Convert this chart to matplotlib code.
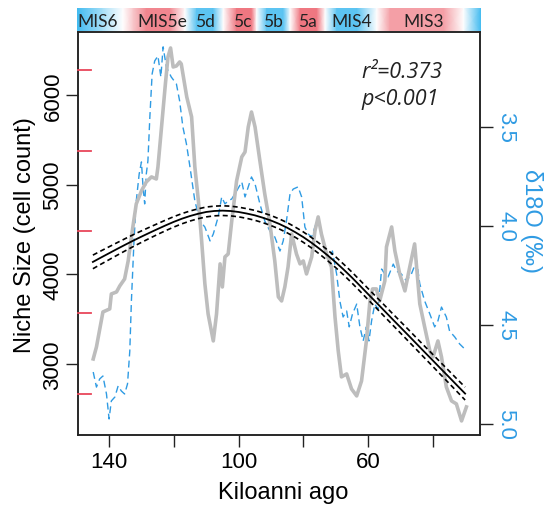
import numpy as np
import matplotlib
matplotlib.use("Agg")
import matplotlib.pyplot as plt
from matplotlib.colors import LinearSegmentedColormap

plt.rcParams["font.family"] = ["Liberation Sans", "DejaVu Sans"]

# ---- data ----
niche_ka = [144.9, 143.9, 141.9, 139.8, 139.3, 137.7, 136.7, 135.2, 134.1, 133.1,
            131.6, 130.0, 128.5, 126.9, 125.4, 124.9, 123.9, 122.6, 121.8, 121.0,
            120.2, 119.2, 118.2, 117.7, 116.0, 114.5, 113.5, 112.4, 111.4, 110.4,
            109.4, 107.8, 106.8, 105.7, 105.0, 104.2, 103.2, 102.1, 100.6, 99.0,
            98.0, 97.0, 96.0, 94.9, 93.4, 91.9, 90.3, 88.8, 87.7, 86.7,
            85.7, 84.7, 83.6, 82.1, 81.0, 80.0, 79.0, 77.4, 76.4, 75.4,
            74.4, 72.8, 71.3, 70.2, 69.2, 68.2, 66.6, 65.1, 63.5, 62.0,
            60.5, 59.4, 58.6, 57.4, 56.4, 54.8, 54.3, 52.7, 51.7, 50.2,
            48.6, 47.1, 45.6, 44.0, 42.5, 40.9, 39.9, 38.4, 37.3, 35.8,
            34.2, 32.7, 31.1, 29.6]
niche_size = [3056, 3190, 3580, 3614, 3781, 3803, 3870, 3948, 4149, 4417,
              4785, 4930, 5030, 5086, 5063, 5197, 5599, 6123, 6424, 6524,
              6312, 6323, 6368, 6346, 5978, 5755, 5197, 4818, 4372, 3893,
              3558, 3257, 3558, 4116, 3859, 4194, 4227, 4595, 5041, 5309,
              5364, 5643, 5810, 5643, 5264, 4896, 4562, 4149, 3748, 3703,
              3859, 4082, 4450, 4227, 4116, 4149, 4004, 4194, 4484, 4640,
              4450, 4227, 4082, 3525, 3146, 2856, 2889, 2722, 2644, 2811,
              3257, 3703, 3837, 3837, 3703, 3926, 4305, 4528, 4261, 4004,
              3815, 4082, 4339, 3670, 3413, 3146, 3079, 3257, 3079, 2744,
              2588, 2555, 2365, 2521]

d18o_ka = [144.9, 143.9, 142.9, 141.9, 140.8, 140.0, 139.3, 138.2, 137.2, 136.2,
           135.2, 134.3, 133.6, 133.1, 132.3, 131.6, 130.7, 130.0, 129.5, 129.0,
           128.5, 128.0, 127.4, 126.7, 125.9, 124.9, 124.0, 123.3, 122.3, 120.8,
           119.2, 118.2, 117.2, 116.1, 115.0, 113.5, 111.9, 110.4, 108.8, 107.8,
           106.3, 105.2, 104.2, 103.2, 102.1, 100.6, 99.0, 98.0, 97.0, 96.0,
           94.9, 93.4, 91.9, 90.3, 88.8, 87.2, 86.2, 85.2, 84.1, 83.1,
           81.6, 80.5, 79.5, 78.5, 77.4, 76.4, 75.4, 74.4, 73.3, 72.0,
           71.0, 69.7, 68.7, 67.7, 66.6, 65.8, 64.8, 63.5, 62.5, 61.5,
           60.5, 59.7, 58.9, 57.9, 56.9, 55.8, 54.8, 53.8, 52.2, 51.2,
           49.7, 48.1, 46.6, 45.0, 44.0, 42.5, 40.9, 39.4, 38.4, 37.3,
           35.8, 34.8, 33.2, 31.7, 30.1]
d18o = [4.739, 4.815, 4.774, 4.759, 4.850, 4.976, 4.885, 4.865, 4.809, 4.835,
        4.850, 4.799, 4.633, 4.380, 4.077, 3.875, 3.739, 3.678, 3.805, 3.890,
        3.739, 3.673, 3.451, 3.234, 3.168, 3.143, 3.249, 3.097, 3.199, 3.249,
        3.284, 3.370, 3.501, 3.587, 3.704, 3.875, 3.976, 4.007, 4.077, 4.042,
        3.956, 3.855, 3.890, 3.875, 3.865, 3.825, 3.779, 3.855, 3.804, 3.754,
        3.789, 3.890, 3.976, 4.027, 4.057, 4.128, 4.077, 3.976, 3.840, 3.815,
        3.804, 3.855, 4.007, 4.042, 4.057, 4.007, 3.956, 4.042, 4.128, 4.178,
        4.128, 4.244, 4.380, 4.461, 4.431, 4.511, 4.446, 4.396, 4.511, 4.582,
        4.511, 4.582, 4.481, 4.396, 4.421, 4.219, 4.244, 4.259, 4.194, 4.229,
        4.244, 4.279, 4.244, 4.178, 4.294, 4.380, 4.446, 4.511, 4.481, 4.411,
        4.461, 4.532, 4.562, 4.597, 4.623]

fit_ka = [145, 142.5, 140, 137.5, 135, 132.5, 130, 127.5, 125, 122.5,
          120, 117.5, 115, 112.5, 110, 107.5, 105, 102.5, 100, 97.5,
          95, 92.5, 90, 87.5, 85, 82.5, 80, 77.5, 75, 72.5,
          70, 67.5, 65, 62.5, 60, 57.5, 55, 52.5, 50, 47.5,
          45, 42.5, 40, 37.5, 35, 32.5, 30]
fit_niche = [4138, 4187, 4235, 4283, 4330, 4376, 4420, 4463, 4505, 4546,
             4585, 4620, 4650, 4675, 4695, 4706, 4710, 4706, 4695, 4678,
             4658, 4631, 4600, 4563, 4520, 4470, 4415, 4353, 4285, 4212,
             4135, 4052, 3965, 3873, 3780, 3688, 3595, 3502, 3410, 3318,
             3225, 3132, 3040, 2947, 2855, 2762, 2670]
fit_ci = [76, 74, 72, 70, 68, 66, 64, 62, 60, 59,
          58, 57, 56, 55, 55, 54, 54, 54, 54, 54,
          55, 55, 56, 56, 57, 57, 58, 58, 59, 59,
          60, 60, 61, 61, 62, 62, 63, 63, 64, 65,
          65, 66, 67, 68, 69, 70, 72]

left_ticks = [3000, 4000, 5000, 6000]
red_ticks = [2670, 3573, 4484, 5379, 6279]
right_ticks = [3.5, 4.0, 4.5, 5.0]
x_ticks = [140, 120, 100, 80, 60, 40]
x_ticklabels = ["140", "", "100", "", "60", ""]

mis_labels = ["MIS6", "MIS5e", "5d", "5c", "5b", "5a", "MIS4", "MIS3"]
mis_label_ka = [143.4, 123.6, 110.4, 99.0, 89.4, 78.9, 65.0, 43.1]
# colour profile of the stage bar: -1 = cold (blue), +1 = warm (red)
mis_ka = [149.8, 141.8, 135.6, 132.5, 128.4, 121.2, 116.5, 112.9, 107.8, 104.7,
          100.6, 96.0, 94.4, 91.3, 86.2, 84.1, 81.0, 75.9, 73.3, 69.7,
          63.5, 57.4, 53.3, 36.8, 30.7, 25.3]
mis_val = [-1.0, -0.45, 0.0, 0.35, 0.75, 0.75, 0.0, -0.85, -0.85, 0.0,
           0.85, 0.85, 0.0, -0.85, -0.85, 0.0, 0.85, 0.85, 0.0, -0.85,
           -0.85, 0.0, 0.6, 0.6, 0.0, -1.0]

BLUE = "#2f9be3"
RED = "#e8475a"
GREY = "#bdbdbd"

fig = plt.figure(figsize=(5.44, 5.06), dpi=100)
ax = fig.add_axes([78 / 544, 1 - 436 / 506, 402 / 544, 403 / 506])
ax.set_zorder(2)
ax.patch.set_visible(False)
ax2 = ax.twinx()
ax2.set_zorder(1)

ax.plot(niche_ka, niche_size, color=GREY, lw=2.6, solid_joinstyle="round", zorder=2)
ax2.plot(d18o_ka, d18o, color=BLUE, lw=1.0, dashes=(5, 3))

fit_ka_a = np.array(fit_ka)
fit_a = np.array(fit_niche)
ci_a = np.array(fit_ci)
ax.plot(fit_ka_a, fit_a + ci_a, color="black", lw=1.2, dashes=(3, 2), zorder=3)
ax.plot(fit_ka_a, fit_a - ci_a, color="black", lw=1.2, dashes=(3, 2), zorder=3)
ax.plot(fit_ka_a, fit_a, color="black", lw=1.3, zorder=3)

ax.set_xlim(149.6, 25.4)
ax.set_ylim(2208, 6702)
ax2.set_ylim(5.057, 3.022)

ax.set_xticks(x_ticks)
ax.set_xticklabels(x_ticklabels)
ax.set_yticks(left_ticks)
ax.set_yticklabels([str(v) for v in left_ticks], rotation=90, va="center")
ax.tick_params(axis="both", direction="out", length=8.5, width=1, labelsize=16,
               color="#222222", pad=2)
ax.tick_params(axis="x", pad=3)
ax2.set_yticks(right_ticks)
ax2.set_yticklabels(["%.1f" % v for v in right_ticks], rotation=-90, va="center")
ax2.tick_params(axis="y", direction="out", length=9, width=1, labelsize=16,
                colors=BLUE, color="#222222", pad=2)

# extra red ticks inside the left axis
for v in red_ticks:
    ax.plot([0, 0.032], [v, v], transform=ax.get_yaxis_transform(),
            color=RED, lw=1.3, clip_on=False, zorder=4)

for a in (ax, ax2):
    for s in a.spines.values():
        s.set_linewidth(1.1)
        s.set_color("#222222")

ax.text(0.705, 0.927, "r\u00b2=0.373\np<0.001", transform=ax.transAxes,
        fontsize=15.5, style="italic", family=["Open Sans", "DejaVu Sans"],
        ha="left", va="top", linespacing=1.35, color="#222222")

fig.text(25 / 544, 1 - 235 / 506, "Niche Size (cell count)", rotation=90,
         ha="center", va="center", fontsize=17)
fig.text(283 / 544, 1 - 493 / 506, "Kiloanni ago", ha="center", va="center",
         fontsize=17)
fig.text(531 / 544, 1 - 221 / 506, "\u03b418O (\u2030)", rotation=-90,
         ha="center", va="center", fontsize=17, color=BLUE)

# ---- MIS stage bar ----
cmap = LinearSegmentedColormap.from_list("mis", ["#3fbaf0", "#ffffff", "#ec5f6b"])
bax = fig.add_axes([77 / 544, 1 - 32 / 506, 404 / 544, 23 / 506])
X = np.vstack([mis_ka, mis_ka])
Y = np.vstack([np.zeros(len(mis_ka)), np.ones(len(mis_ka))])
C = np.vstack([mis_val, mis_val])
bax.pcolormesh(X, Y, C, shading="gouraud", cmap=cmap, vmin=-1, vmax=1)
bax.set_xlim(149.8, 25.3)
bax.set_ylim(0, 1)
bax.axis("off")
for lab, k in zip(mis_labels, mis_label_ka):
    bax.text(k, 0.42, lab, ha="center", va="center", fontsize=12.5,
             family=["Lato", "DejaVu Sans"], color="#222222")

fig.savefig("out.png", dpi=100)
